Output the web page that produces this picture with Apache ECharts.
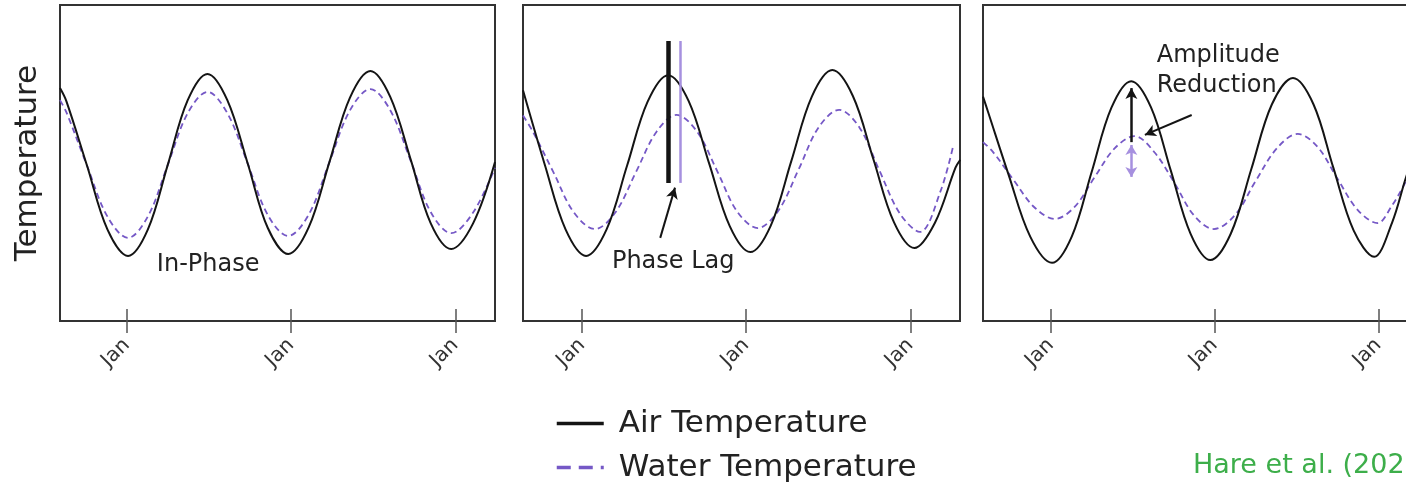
<!DOCTYPE html>
<html>
<head>
<meta charset="utf-8">
<script src="https://cdn.jsdelivr.net/npm/echarts@6/dist/echarts.min.js"></script>
<style>
  html, body { margin: 0; padding: 0; background: #fff; overflow: hidden; }
  /* the third panel runs past the right edge of the window, as in the source figure */
  #chart { width: 1440px; height: 490px; }
</style>
</head>
<body>
<div id="chart"></div>
<script>
// x = months after the first Jan tick of each panel, y = temperature (arbitrary 0-100 scale)
const janTicks = [0, 12, 24]
const tickLabel = 'Jan'
const airName = 'Air Temperature'
const waterName = 'Water Temperature'

// panel 1 - in phase
const x1 = [-4.87, -4.4, -2.9, -1.4, 0.1, 1.55, 3.0, 4.45, 5.9, 7.35, 8.85, 10.3, 11.8, 13.3, 14.8, 16.3, 17.8, 19.25, 20.75, 22.2, 23.7, 25.3, 26.9]
const air1 = [73.7, 69.5, 49.2, 28.9, 20.6, 29.0, 49.4, 69.8, 78.2, 69.9, 49.7, 29.5, 21.2, 29.7, 50.2, 70.6, 79.1, 70.9, 51.0, 31.0, 22.8, 30.9, 50.3]
const water1 = [69.9, 66.0, 49.2, 33.0, 26.3, 33.1, 49.4, 65.7, 72.5, 65.8, 49.7, 33.6, 26.9, 33.7, 50.2, 66.6, 73.4, 66.7, 50.6, 34.5, 27.8, 34.3, 48.5]

// panel 2 - phase lag
const airX2 = [-4.31, -2.7, -1.2, 0.3, 1.8, 3.3, 4.8, 6.3, 7.8, 9.3, 10.8, 12.3, 13.8, 15.3, 16.8, 18.3, 19.8, 21.3, 22.8, 24.3, 25.8, 27.3, 27.65]
const air2 = [73.0, 49.2, 29.0, 20.6, 29.0, 49.2, 69.4, 77.8, 69.6, 49.8, 30.0, 21.8, 30.2, 50.6, 71.0, 79.4, 71.2, 51.2, 31.3, 23.1, 31.1, 48.5, 51.0]
const waterX2 = [-4.31, -3.6, -2.1, -0.6, 0.95, 2.45, 3.95, 5.45, 6.9, 8.4, 9.9, 11.35, 12.85, 14.35, 15.85, 17.3, 18.8, 20.3, 21.75, 23.25, 24.7, 26.2, 27.15]
const water2 = [65.0, 60.0, 47.2, 34.4, 29.1, 34.4, 47.15, 59.9, 65.2, 60.0, 47.3, 34.6, 29.4, 34.9, 48.1, 61.3, 66.8, 61.1, 47.5, 33.9, 28.2, 41.0, 55.7]

// panel 3 - amplitude reduction
const airX3 = [-4.96, -4.6, -3.1, -1.5, 0.1, 1.55, 3.0, 4.45, 5.9, 7.35, 8.8, 10.25, 11.7, 13.2, 14.7, 16.2, 17.75, 19.25, 20.7, 22.2, 23.7, 25.0, 25.97, 27.13]
const air3 = [71.0, 66.3, 46.5, 26.7, 18.4, 26.8, 47.15, 67.5, 75.9, 67.6, 47.6, 27.6, 19.3, 27.7, 48.1, 68.5, 76.9, 68.6, 48.6, 28.6, 20.3, 31.0, 44.6, 60.0]
const waterX3 = [-4.96, -4.25, -2.75, -1.2, 0.3, 1.75, 3.2, 4.7, 6.15, 7.6, 9.05, 10.5, 11.95, 13.5, 15.0, 16.6, 18.1, 19.55, 21.0, 22.5, 23.95, 25.0, 25.97, 26.95]
const water3 = [56.6, 53.6, 44.8, 36.0, 32.3, 36.1, 45.4, 54.7, 58.5, 53.4, 43.8, 33.4, 29.1, 33.5, 44.2, 54.8, 59.2, 55.1, 45.1, 35.1, 31.0, 36.5, 43.7, 52.0]

// annotation anchors (data coordinates)
const phaseAirX = 6.32
const phaseWaterX = 7.19
const phaseBar = [43.7, 88.6]
const ampX = 5.91
const ampAir = [56.6, 73.7]
const ampWater = [45.6, 55.7]

const FONT = 'DejaVu Sans'
const INK = '#222'
const AIR = '#141414'
const WATER = '#7558c6'
const WATER_LIGHT = '#a690df'

const pairs = (xs, ys) => xs.map((x, i) => [x, ys[i]])

const panels = [
  { left: 60, width: 435, min: -4.87, max: 26.9, air: pairs(x1, air1), water: pairs(x1, water1) },
  { left: 523, width: 437, min: -4.31, max: 27.63, air: pairs(airX2, air2), water: pairs(waterX2, water2) },
  { left: 983, width: 438, min: -4.96, max: 27.13, air: pairs(airX3, air3), water: pairs(waterX3, water3) },
]

const textLabel = {
  show: true,
  position: 'inside',
  color: INK,
  fontSize: 24,
  fontFamily: FONT,
  formatter: (p) => p.name,
}

const labelPoint = (data, label) => ({
  silent: true,
  animation: false,
  symbol: 'circle',
  symbolSize: 1,
  itemStyle: { color: 'rgba(0,0,0,0)' },
  label: label || textLabel,
  data,
})

// 注释：每个面板的标记
const annotations = [
  {
    markPoint: labelPoint([{ name: 'In-Phase', coord: [5.95, 17.7] }]),
  },
  {
    markPoint: labelPoint([{ name: 'Phase Lag', coord: [6.67, 18.7] }]),
    markLine: {
      silent: true,
      animation: false,
      symbol: ['none', 'none'],
      label: { show: false },
      emphasis: { disabled: true },
      data: [
        [
          { coord: [phaseWaterX, phaseBar[0]], lineStyle: { color: WATER_LIGHT, width: 2.5, type: 'solid' } },
          { coord: [phaseWaterX, phaseBar[1]] },
        ],
        [
          { coord: [phaseAirX, phaseBar[0]], lineStyle: { color: AIR, width: 4.5, type: 'solid' } },
          { coord: [phaseAirX, phaseBar[1]] },
        ],
        [
          { coord: [5.72, 26.3], symbol: 'none', lineStyle: { color: AIR, width: 2, type: 'solid', curveness: 0.25 } },
          { coord: [6.8, 42.2], symbol: 'arrow', symbolSize: [9, 11] },
        ],
      ],
    },
  },
  {
    markPoint: labelPoint(
      [{ name: 'Amplitude\nReduction', coord: [7.77, 79.1] }],
      { ...textLabel, align: 'left', lineHeight: 30 }
    ),
    markLine: {
      silent: true,
      animation: false,
      label: { show: false },
      emphasis: { disabled: true },
      data: [
        [
          { coord: [ampX, ampWater[0]], symbol: 'arrow', symbolSize: [9, 10], lineStyle: { color: WATER_LIGHT, width: 2.5, type: 'solid' } },
          { coord: [ampX, ampWater[1]], symbol: 'arrow', symbolSize: [9, 10] },
        ],
        [
          { coord: [ampX, ampAir[0]], symbol: 'none', lineStyle: { color: AIR, width: 2.5, type: 'solid' } },
          { coord: [ampX, ampAir[1]], symbol: 'arrow', symbolSize: [9, 11] },
        ],
        [
          { coord: [10.33, 65.2], symbol: 'none', lineStyle: { color: AIR, width: 2, type: 'solid', curveness: 0.2 } },
          { coord: [6.9, 58.9], symbol: 'arrow', symbolSize: [9, 11] },
        ],
      ],
    },
  },
]

const grid = panels.map((p) => ({
  left: p.left,
  top: 5,
  width: p.width,
  height: 316,
  show: true,
  borderColor: '#333',
  borderWidth: 2,
  backgroundColor: 'transparent',
}))

const xAxis = panels.map((p, i) => ({
  type: 'value',
  gridIndex: i,
  min: p.min,
  max: p.max,
  offset: -12,
  axisLine: { show: false },
  splitLine: { show: false },
  axisTick: {
    show: true,
    inside: false,
    length: 24,
    customValues: janTicks,
    lineStyle: { color: '#555', width: 1.5 },
  },
  axisLabel: {
    customValues: janTicks,
    formatter: () => tickLabel,
    rotate: 45,
    margin: 33,
    fontSize: 20,
    fontFamily: FONT,
    color: '#333',
  },
}))

const yAxis = panels.map((p, i) => ({
  type: 'value',
  gridIndex: i,
  min: 0,
  max: 100,
  axisLine: { show: false },
  axisTick: { show: false },
  axisLabel: { show: false },
  splitLine: { show: false },
  name: i === 0 ? 'Temperature' : '',
  nameLocation: 'middle',
  nameGap: 17,
  nameTextStyle: { fontSize: 31, fontFamily: FONT, color: INK },
}))

const series = []
panels.forEach((p, i) => {
  series.push({
    type: 'line',
    name: airName,
    xAxisIndex: i,
    yAxisIndex: i,
    data: p.air,
    smooth: 0.35,
    symbol: 'none',
    color: AIR,
    lineStyle: { color: AIR, width: 2 },
    animation: false,
    z: 3,
    ...annotations[i],
  })
  series.push({
    type: 'line',
    name: waterName,
    xAxisIndex: i,
    yAxisIndex: i,
    data: p.water,
    smooth: 0.35,
    symbol: 'none',
    color: WATER,
    lineStyle: { color: WATER, width: 1.8, type: [6, 4] },
    animation: false,
    z: 2,
  })
})

const chart = echarts.init(document.getElementById('chart'))
chart.setOption({
  animation: false,
  backgroundColor: '#fff',
  title: {
    text: 'Hare et al. (2021)',
    left: 1188,
    top: 447,
    textStyle: { color: '#3dae4a', fontSize: 27, fontFamily: FONT, fontWeight: 'normal' },
  },
  legend: {
    orient: 'vertical',
    left: 555,
    top: 408,
    padding: 0,
    itemWidth: 47,
    itemHeight: 14,
    itemGap: 13,
    selectedMode: false,
    itemStyle: { opacity: 0 },
    textStyle: { fontSize: 31, fontFamily: FONT, color: INK, padding: [0, 0, 0, 10] },
    data: [
      { name: airName, lineStyle: { width: 3.5 } },
      { name: waterName, lineStyle: { width: 3.5, type: [14, 8] } },
    ],
  },
  grid,
  xAxis,
  yAxis,
  series,
})
</script>
</body>
</html>
